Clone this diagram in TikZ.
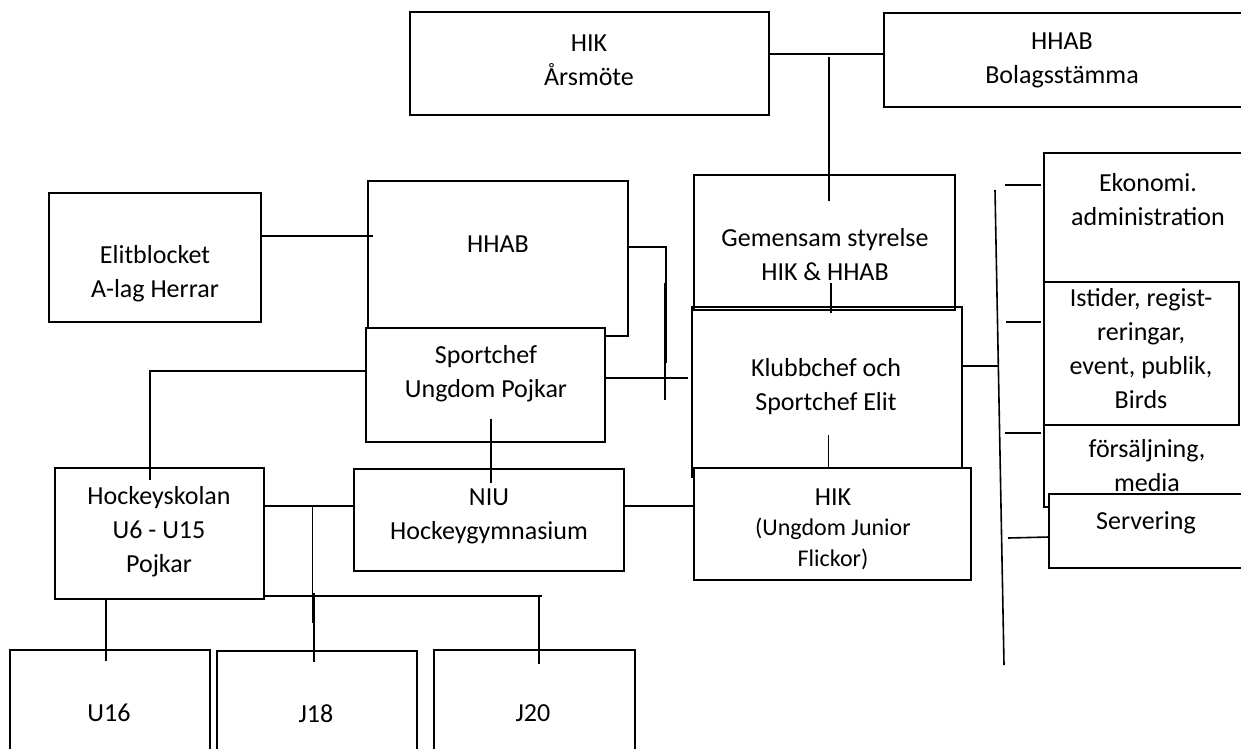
\documentclass[tikz,border=0pt]{standalone}
\usepackage{fontspec}
\setmainfont{Carlito}
\usetikzlibrary{fit}
\begin{document}
\begin{tikzpicture}[x=1pt,y=-1pt,
  box/.style={draw, line width=1.6pt, inner sep=0pt, fill=white},
  openbox/.style={inner sep=0pt, fill=white},
  lbl/.style={inner sep=0pt, align=center, font=\fontsize{26}{34}\selectfont},
  small/.style={inner sep=0pt, align=center, font=\fontsize{24}{30.5}\selectfont},
  conn/.style={line width=1.6pt},
  edge/.style={line width=1.6pt}]
\path[use as bounding box] (0,0) rectangle (1241,748);
\clip (0,0) rectangle (1241,748);

% top
\node[box, fit={(410,12) (769,115)}] (hik) {};
\node[lbl] (thik) at (589,60) {HIK\\Årsmöte};
\node[openbox, fit={(884,13) (1270,107)}] (bol) {};
\draw[edge] (bol.north east) -- (bol.north west) -- (bol.south west) -- (bol.south east);
\node[lbl] (tbol) at (1062,60) {HHAB\\Bolagsstämma};

% left-middle
\node[box, fit={(49,193) (261,322)}] (elit) {};
\node[lbl] (telit) at (155,274) {Elitblocket\\A-lag Herrar};
\node[box, fit={(368,181) (628,336)}] (hhab) {};
\node[lbl] (thhab) at (498,244) {HHAB};
\node[box, fit={(366,328) (605,442)}] (sport) {};
\node[lbl] (tsport) at (486,374) {Sportchef\\Ungdom Pojkar};

% centre column
\node[box, fill=none, fit={(694,175) (955,310)}] (gem) {};
\node[lbl] (tgem) at (825,255) {Gemensam styrelse\\HIK \& HHAB};
\node[box, fill=none, fit={(692,307) (962,477)}] (klub) {};
\node[lbl] (tklub) at (826,387) {Klubbchef och\\Sportchef Elit};
\node[box, fit={(694,468) (971,580)}] (flick) {};
\node[lbl] (tflick1) at (833,497) {HIK};
\node[small] (tflick2) at (833,544) {(Ungdom Junior\\Flickor)};

% lower left
\node[box, fit={(55,468) (264,599)}] (hock) {};
\node[lbl] (thock) at (159,532) {Hockeyskolan\\U6 - U15\\Pojkar};
\node[box, fit={(354,469) (624,571)}] (niu) {};
\node[lbl] (tniu) at (489,516) {NIU\\Hockeygymnasium};
\node[openbox, fit={(10,650) (210,780)}] (u16) {};
\draw[edge] (u16.south west) -- (u16.north west) -- (u16.north east) -- (u16.south east);
\node[lbl] (tu16) at (109,713) {U16};
\node[openbox, fit={(217,651) (417,780)}] (j18) {};
\draw[edge] (j18.south west) -- (j18.north west) -- (j18.north east) -- (j18.south east);
\node[lbl] (tj18) at (316,714) {J18};
\node[openbox, fit={(434,650) (635,780)}] (j20) {};
\draw[edge] (j20.south west) -- (j20.north west) -- (j20.north east) -- (j20.south east);
\node[lbl] (tj20) at (533,713) {J20};

% right column
\node[openbox, fit={(1044,153) (1270,300)}] (eko) {};
\draw[edge] (eko.north east) -- (eko.north west) -- (eko.south west);
\node[lbl] (teko) at (1148,200) {Ekonomi.\\administration};
\node[openbox, fit={(1044,420) (1270,507)}] (fors) {};
\draw[edge] (fors.north west) -- (fors.south west) -- (fors.south east);
\node[lbl] (tfors) at (1147,466) {försäljning,\\media};
\node[box, fit={(1044,282) (1239,425)}] (ist) {};
\node[lbl] (tist) at (1141,349) {Istider, regist-\\reringar,\\event, publik,\\Birds};
\node[openbox, fit={(1049,494) (1270,568)}] (serv) {};
\draw[edge] (serv.north east) -- (serv.north west) -- (serv.south west) -- (serv.south east);
\node[lbl] (tserv) at (1146,523) {Servering};

% connectors
\coordinate (jtop) at (829,57);
\coordinate (jgem) at (829,201);
\draw[conn] (hik.east |- 0,54) -- (bol.west |- 0,54);
\draw[conn] (jtop) -- (jgem);
\draw[conn] (831,283) -- (klub.north -| 831,0) -- (831,313);
\draw[conn] (828.5,435) -- (flick.north -| 828.5,0);
\draw[conn] (elit.east |- 0,236) -- (373,236);
\draw[conn] (hhab.east |- 0,247) -- (666,247) -- (666,363);
\draw[conn] (665,283) -- (665,400);
\draw[conn] (sport.east |- 0,378) -- (688,378);
\draw[conn] (sport.west |- 0,371) -- (150,371) -- (150,480);
\draw[conn] (491,419) -- (niu.north -| 491,0) -- (491,483);
\draw[conn] (hock.east |- 0,506) -- (niu.west |- 0,506);
\draw[conn] (niu.east |- 0,506) -- (flick.west |- 0,506);
\draw[conn] (312.5,506) -- (312.5,623);
\draw[conn] (314,593) -- (314,662);
\draw[conn] (hock.south east |- 0,596) -- (542,596);
\draw[conn] (539,596) -- (539,664);
\draw[conn] (hock.south -| 106,0) -- (106,661);
\draw[conn] (klub.east |- 0,366) -- (998,366);
\coordinate (rtop) at (995,190);
\coordinate (rbot) at (1004,665);
\draw[conn] (rtop) -- (rbot);
\draw[conn] (1005,185) -- (1041,185);
\draw[conn] (1006,322) -- (1041,322);
\draw[conn] (1005,433) -- (1041,433);
\draw[conn] (1008,538) -- (serv.west |- 0,537);
\end{tikzpicture}
\end{document}
